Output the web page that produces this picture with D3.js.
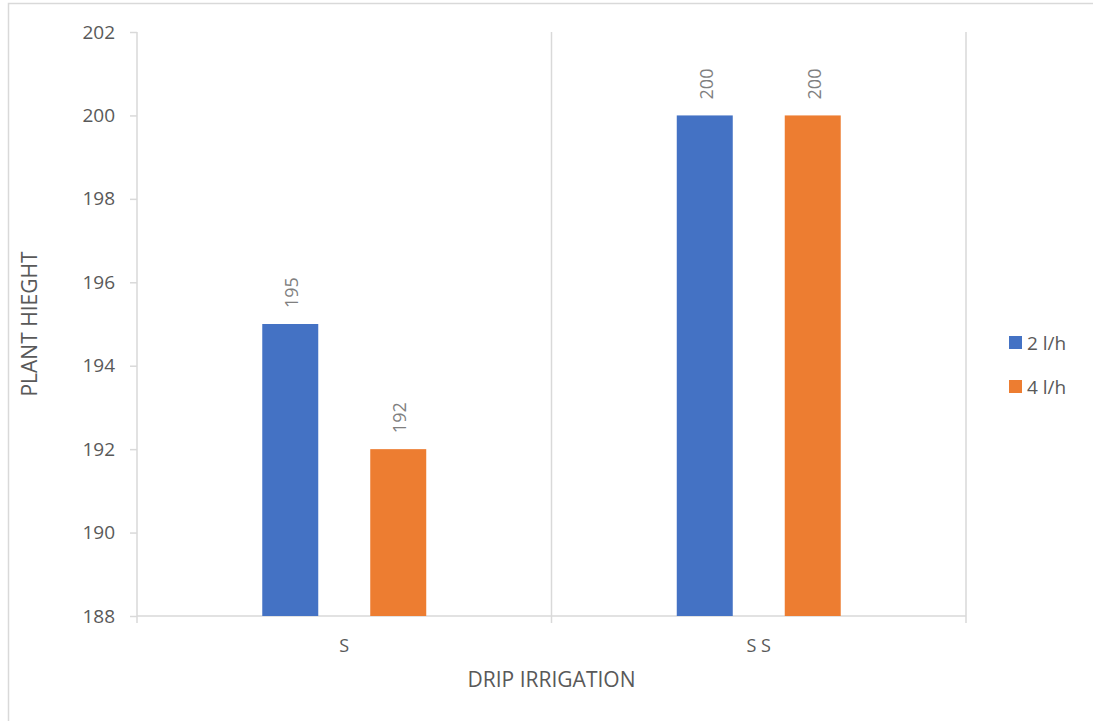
<!DOCTYPE html>
<html><head><meta charset="utf-8">
<script src="https://cdn.jsdelivr.net/npm/d3@7"></script>
<style>body{margin:0;background:#fff;} text{font-family:"Open Sans",sans-serif;}</style>
</head><body><svg id="c" width="1093" height="721"></svg>
<script>
const categories = ["S", "S S"];
const seriesNames = ["2 l/h", "4 l/h"];
const values2lh = [195, 200];
const values4lh = [192, 200];
const yTicks = [188, 190, 192, 194, 196, 198, 200, 202];
const colors = ["#4472C4", "#ED7D31"];
const seriesValues = [values2lh, values4lh];

const svg = d3.select("#c");
const textColor = "#595959", gridColor = "#d9d9d9";
const L = 137, R = 966, T = 32, B = 616;

svg.append("rect").attr("x", 8.5).attr("y", 3.5).attr("width", 1100).attr("height", 730)
  .attr("fill", "none").attr("stroke", gridColor).attr("stroke-width", 1.5);

const y = d3.scaleLinear().domain([188, 202]).range([B, T]);
const x0 = d3.scaleBand().domain(categories).range([L, R]).paddingInner(0).paddingOuter(0);
const x1 = d3.scaleBand().domain(seriesNames).range([0, x0.bandwidth()]).paddingInner(0.4815).paddingOuter(1.16);

const bounds = categories.map(c => x0(c) + x0.bandwidth());
svg.selectAll(".vg").data(bounds).enter().append("line")
  .attr("x1", d => d).attr("x2", d => d).attr("y1", T).attr("y2", B)
  .attr("stroke", gridColor).attr("stroke-width", 1.5);

const yAxis = svg.append("g").attr("transform", `translate(${L},0)`)
  .call(d3.axisLeft(y).tickValues(yTicks).tickSize(7).tickPadding(15).tickFormat(d3.format("d")));
yAxis.select(".domain").attr("stroke", gridColor).attr("stroke-width", 1.5).attr("d", `M0,${T}V${B}`);
yAxis.selectAll(".tick line").attr("stroke", gridColor).attr("stroke-width", 1.5);
yAxis.selectAll(".tick text").attr("fill", textColor).style("font-size", "19px");

const xAxisG = svg.append("g").attr("transform", `translate(0,${B})`);
xAxisG.append("line").attr("x1", L).attr("x2", R).attr("stroke", gridColor).attr("stroke-width", 1.5);
const tickPos = [L].concat(bounds);
xAxisG.selectAll(".xt").data(tickPos).enter().append("line")
  .attr("x1", d => d).attr("x2", d => d).attr("y1", 0).attr("y2", 7)
  .attr("stroke", gridColor).attr("stroke-width", 1.5);
xAxisG.selectAll(".xl").data(categories).enter().append("text")
  .attr("x", d => x0(d) + x0.bandwidth() / 2).attr("y", 36)
  .attr("text-anchor", "middle").attr("fill", textColor).style("font-size", "18px").text(d => d);

categories.forEach((c, ci) => {
  seriesNames.forEach((s, si) => {
    const v = seriesValues[si][ci];
    const bx = x0(c) + x1(s);
    svg.append("rect").attr("x", bx).attr("y", y(v)).attr("width", x1.bandwidth())
      .attr("height", y(188) - y(v)).attr("fill", colors[si]);
    const cx = bx + x1.bandwidth() / 2;
    svg.append("text").attr("transform", `translate(${cx + 8},${y(v) - 16}) rotate(-90)`)
      .attr("fill", "#7f7f7f").style("font-size", "18px").text(v);
  });
});

svg.append("text").attr("transform", `translate(37,${(T + B) / 2}) rotate(-90)`)
  .attr("text-anchor", "middle").attr("fill", textColor).style("font-size", "21px").text("PLANT HIEGHT");
svg.append("text").attr("x", (L + R) / 2).attr("y", 687)
  .attr("text-anchor", "middle").attr("fill", textColor).style("font-size", "21px").text("DRIP IRRIGATION");

seriesNames.forEach((s, i) => {
  const ly = 336 + i * 44;
  svg.append("rect").attr("x", 1009).attr("y", ly).attr("width", 13).attr("height", 13).attr("fill", colors[i]);
  svg.append("text").attr("x", 1027).attr("y", ly + 14).attr("fill", textColor).style("font-size", "19px").text(s);
});
</script></body></html>
